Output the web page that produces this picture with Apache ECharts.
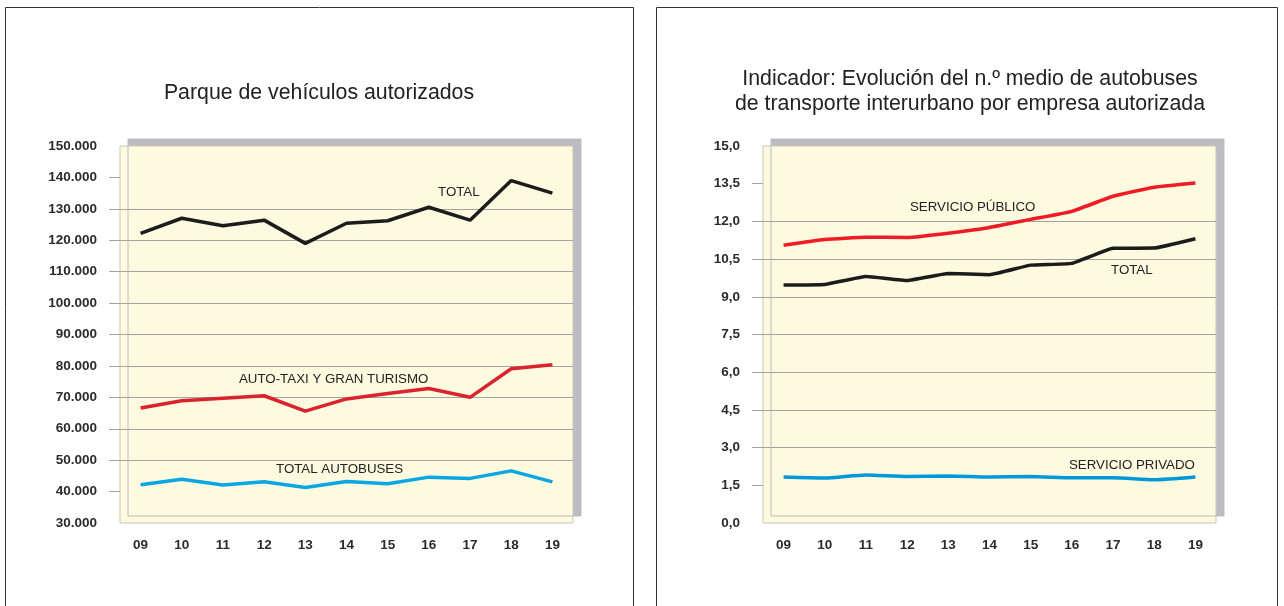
<!DOCTYPE html>
<html>
<head>
<meta charset="utf-8">
<title>Parque de vehículos autorizados</title>
<script src="https://cdn.jsdelivr.net/npm/echarts@6/dist/echarts.min.js"></script>
<style>
  html, body { margin: 0; padding: 0; background: #fff; }
  #main { width: 1284px; height: 606px; }
</style>
</head>
<body>
<div id="main"></div>
<script>
// datos
var years = ['09', '10', '11', '12', '13', '14', '15', '16', '17', '18', '19'];

// parque de vehículos autorizados
var parqueTotal = [122200, 127000, 124600, 126400, 119000, 125400, 126200, 130500, 126400, 139000, 135000];
var parqueTaxi = [66600, 68900, 69700, 70500, 65600, 69500, 71200, 72800, 70000, 79100, 80400];
var parqueBus = [42200, 43900, 42100, 43100, 41300, 43200, 42500, 44600, 44200, 46600, 43100];
var parqueTicks = [40000, 50000, 60000, 70000, 80000, 90000, 100000, 110000, 120000, 130000, 140000];

// n.º medio de autobuses por empresa
var medioPublico = [11.05, 11.28, 11.37, 11.36, 11.53, 11.76, 12.08, 12.40, 13.00, 13.36, 13.53];
var medioTotal = [9.47, 9.49, 9.81, 9.65, 9.93, 9.88, 10.26, 10.33, 10.93, 10.94, 11.31];
var medioPrivado = [1.83, 1.79, 1.91, 1.85, 1.87, 1.83, 1.85, 1.80, 1.80, 1.72, 1.83];
var medioTicks = [1.5, 3.0, 4.5, 6.0, 7.5, 9.0, 10.5, 12.0, 13.5];

var font = '"Liberation Sans", Arial, sans-serif';
var gridLine = '#a3a3a0';

var myChart = echarts.init(document.getElementById('main'));

function gridStyle(left) {
    return {
        left: left, top: 146, width: 453, height: 377,
        show: true,
        backgroundColor: '#fefadf',
        borderColor: '#c9c7b4',
        borderWidth: 1,
        shadowColor: '#bdbdc1',
        shadowBlur: 0,
        shadowOffsetX: 8,
        shadowOffsetY: -7
    };
}

function xAxisStyle(idx) {
    return {
        type: 'category', gridIndex: idx, data: years, boundaryGap: true,
        axisLine: { show: false }, axisTick: { show: false },
        axisLabel: { margin: 15, color: '#2b2b2b', fontFamily: font, fontWeight: 'bold', fontSize: 13.5 }
    };
}

function yAxisStyle(idx, min, max, interval, ticks, fmt) {
    return {
        type: 'value', gridIndex: idx, min: min, max: max, interval: interval,
        axisLine: { show: false },
        axisTick: { show: true, length: 11, customValues: ticks, lineStyle: { color: gridLine, width: 1 } },
        splitLine: { show: true, showMinLine: false, showMaxLine: false, lineStyle: { color: gridLine, width: 1 } },
        axisLabel: { margin: 23, color: '#2b2b2b', fontFamily: font, fontWeight: 'bold', fontSize: 13.5, formatter: fmt }
    };
}

function lineSerie(idx, name, data, color, smooth) {
    return {
        name: name, type: 'line', xAxisIndex: idx, yAxisIndex: idx,
        data: data, symbol: 'none', smooth: smooth || false,
        lineStyle: { color: color, width: 3.5 }, silent: true
    };
}

function note(text, x, y) {
    return {
        type: 'text', left: x, top: y - 7,
        style: { text: text, fill: '#222', font: '13.3px ' + font }
    };
}

var option = {
    animation: false,
    grid: [gridStyle(120), gridStyle(763)],
    xAxis: [xAxisStyle(0), xAxisStyle(1)],
    yAxis: [
        yAxisStyle(0, 30000, 150000, 10000, parqueTicks, function (v) {
            return (v / 1000).toFixed(0) + '.000';
        }),
        yAxisStyle(1, 0, 15, 1.5, medioTicks, function (v) {
            return v.toFixed(1).replace('.', ',');
        })
    ],
    series: [
        lineSerie(0, 'TOTAL', parqueTotal, '#1c1c1c'),
        lineSerie(0, 'AUTO-TAXI Y GRAN TURISMO', parqueTaxi, '#d9232d'),
        lineSerie(0, 'TOTAL AUTOBUSES', parqueBus, '#0aa6e2'),
        lineSerie(1, 'SERVICIO PÚBLICO', medioPublico, '#ee1c25', 0.15),
        lineSerie(1, 'TOTAL', medioTotal, '#1c1c1c', 0.1),
        lineSerie(1, 'SERVICIO PRIVADO', medioPrivado, '#0098d8', 0.2)
    ],
    title: [
        {
            text: 'Parque de vehículos autorizados',
            left: 314, top: 78, textAlign: 'center',
            textStyle: { fontFamily: font, fontWeight: 'normal', fontSize: 21.3, color: '#222' }
        },
        {
            text: 'Indicador: Evolución del n.º medio de autobuses\nde transporte interurbano por empresa autorizada',
            left: 965, top: 62, textAlign: 'center',
            textStyle: { fontFamily: font, fontWeight: 'normal', fontSize: 21.3, lineHeight: 25, color: '#222' }
        }
    ],
    graphic: [
        // marcos de los dos paneles
        { type: 'rect', shape: { x: 5.5, y: 7.5, width: 628, height: 620 }, style: { fill: null, stroke: '#333', lineWidth: 1 }, z: -10 },
        { type: 'rect', shape: { x: 656.5, y: 7.5, width: 621, height: 620 }, style: { fill: null, stroke: '#333', lineWidth: 1 }, z: -10 },
        // rótulos de las series
        note('TOTAL', 438, 193),
        note('AUTO-TAXI Y GRAN TURISMO', 239, 380),
        note('TOTAL AUTOBUSES', 276, 470),
        note('SERVICIO PÚBLICO', 910, 208),
        note('TOTAL', 1111, 271),
        note('SERVICIO PRIVADO', 1069, 466)
    ]
};

myChart.setOption(option);
</script>
</body>
</html>
